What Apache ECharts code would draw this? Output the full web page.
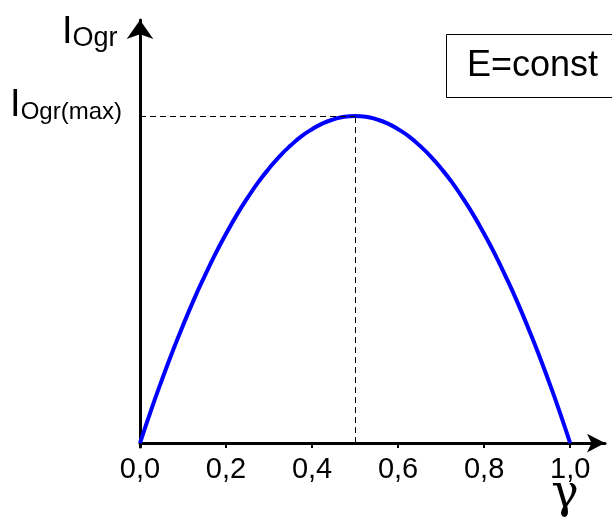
<!DOCTYPE html>
<html>
<head>
<meta charset="utf-8">
<script src="https://cdn.jsdelivr.net/npm/echarts@6/dist/echarts.min.js"></script>
<style>html,body{margin:0;padding:0;background:#fff;}#c{width:612px;height:520px;}</style>
</head>
<body>
<div id="c"></div>
<script>
// gamma (x) and normalised current I_Ogr / I_Ogr(max) (y)
const gammaValues   = [0, 0.025, 0.05, 0.075, 0.1, 0.125, 0.15, 0.175, 0.2, 0.225, 0.25, 0.275, 0.3, 0.325, 0.35, 0.375, 0.4, 0.425, 0.45, 0.475, 0.5,
                       0.525, 0.55, 0.575, 0.6, 0.625, 0.65, 0.675, 0.7, 0.725, 0.75, 0.775, 0.8, 0.825, 0.85, 0.875, 0.9, 0.925, 0.95, 0.975, 1.0];
const currentValues = [0, 0.098, 0.19, 0.278, 0.36, 0.438, 0.51, 0.578, 0.64, 0.698, 0.75, 0.798, 0.84, 0.878, 0.91, 0.938, 0.96, 0.978, 0.99, 0.998, 1.0,
                       0.998, 0.99, 0.978, 0.96, 0.938, 0.91, 0.878, 0.84, 0.798, 0.75, 0.698, 0.64, 0.578, 0.51, 0.438, 0.36, 0.278, 0.19, 0.098, 0];
const xTickValues = [0, 0.2, 0.4, 0.6, 0.8, 1.0];
const xTickLabels = ['0,0', '0,2', '0,4', '0,6', '0,8', '1,0'];
const peakGamma = 0.5;
const peakValue = 1.0;
const yAxisTitle = 'Ogr';
const peakLabelSub = 'Ogr(max)';
const xAxisTitle = 'γ';
const boxText = 'E=const';

const FONT = 'Liberation Sans, Arial, sans-serif';
const chart = echarts.init(document.getElementById('c'), null, {renderer: 'canvas'});
const seriesData = gammaValues.map((g, i) => [g, currentValues[i]]);

chart.setOption({
  animation: false,
  backgroundColor: '#fff',
  grid: {left: 140, right: 7, top: 20, bottom: 73, containLabel: false, outerBoundsMode: 'none'},
  xAxis: {
    type: 'value', min: 0, max: 1.081,
    axisLine: {onZero: true, lineStyle: {color: '#000', width: 3}, symbol: ['none', 'arrow'], symbolSize: [14, 18]},
    axisTick: {show: true, customValues: xTickValues, length: 5, inside: false, lineStyle: {color: '#000', width: 2}},
    axisLabel: {
      customValues: xTickValues, margin: 8, color: '#000', fontFamily: FONT, fontSize: 29,
      formatter: function (v) { const i = xTickValues.findIndex(t => Math.abs(t - v) < 1e-9); return i >= 0 ? xTickLabels[i] : ''; }
    },
    splitLine: {show: false}
  },
  yAxis: {
    type: 'value', min: -0.012, max: 1.294,
    axisLine: {show: true, onZero: false, lineStyle: {color: '#000', width: 3}, symbol: ['none', 'arrow'], symbolSize: [20, 19]},
    axisTick: {show: false},
    axisLabel: {
      customValues: [peakValue], margin: 18, color: '#000', verticalAlign: 'bottom', padding: [0, 0, -8, 0],
      formatter: function () { return '{i|I}{s|' + peakLabelSub + '}'; },
      rich: {
        i: {fontFamily: FONT, fontSize: 38, color: '#000', lineHeight: 40, verticalAlign: 'bottom'},
        s: {fontFamily: FONT, fontSize: 24, color: '#000', lineHeight: 36, verticalAlign: 'bottom'}
      }
    },
    splitLine: {show: false}
  },
  series: [{
    type: 'line',
    data: seriesData,
    smooth: true,
    showSymbol: false,
    lineStyle: {color: '#0000ff', width: 4},
    markLine: {
      silent: true, symbol: ['none', 'none'], label: {show: false},
      lineStyle: {color: '#000', width: 1, type: [6, 4]},
      data: [
        [{coord: [0, peakValue]}, {coord: [peakGamma, peakValue]}],
        [{coord: [peakGamma, 0]}, {coord: [peakGamma, peakValue]}]
      ]
    }
  }],
  graphic: [
    {
      type: 'text', left: 62, top: 14,
      style: {
        text: '{i|I}{s|' + yAxisTitle + '}',
        rich: {
          i: {fontFamily: FONT, fontSize: 38, fill: '#000', lineHeight: 40, verticalAlign: 'bottom'},
          s: {fontFamily: FONT, fontSize: 27, fill: '#000', lineHeight: 36, verticalAlign: 'bottom'}
        }
      }
    },
    {
      type: 'text', x: 565, y: 472,
      style: {text: xAxisTitle, fontFamily: 'DejaVu Serif, serif', fontSize: 46, fill: '#000', align: 'center', verticalAlign: 'top'}
    },
    {
      type: 'rect', shape: {x: 446.5, y: 34.5, width: 200, height: 63},
      style: {fill: '#fff', stroke: '#000', lineWidth: 1}
    },
    {
      type: 'text', x: 467, y: 66,
      style: {text: boxText, fontFamily: FONT, fontSize: 36, fill: '#000', align: 'left', verticalAlign: 'middle'}
    }
  ]
});
</script>
</body>
</html>
